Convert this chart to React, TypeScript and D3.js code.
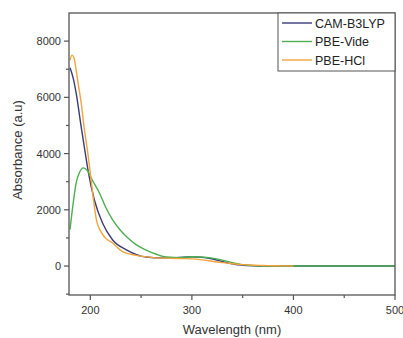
import React from "react";
import * as d3 from "d3";

const seriesNames = ["CAM-B3LYP", "PBE-Vide", "PBE-HCl"];
const seriesColors = ["#3b3b7c", "#4caf50", "#f2a43a"];

const camX = [180, 183, 186, 191, 195.6, 198, 204, 212, 222, 236, 255, 270, 285, 300, 310, 318, 326, 334, 342, 350, 360, 375, 400, 450, 500];
const camY = [7050, 6700, 6160, 4950, 3880, 3350, 2350, 1530, 925, 570, 320, 290, 300, 330, 310, 270, 200, 120, 60, 30, 10, 0, 0, 0, 0];

const videX = [180, 183, 186, 189, 193, 197, 202, 209, 215, 222, 229, 236, 245, 255, 265, 275, 290, 300, 310, 320, 330, 340, 350, 360, 380, 400, 450, 500];
const videY = [1300, 2200, 2950, 3300, 3490, 3400, 3050, 2600, 2100, 1640, 1300, 1030, 760, 570, 420, 320, 300, 330, 320, 280, 210, 120, 50, 20, 0, 0, 0, 0];

const hclX = [180, 182, 184, 186, 188, 191, 194, 197.5, 200, 203, 206, 210, 214, 222, 232, 245, 260, 275, 290, 300, 310, 320, 330, 340, 350, 360, 370, 380, 390, 400];
const hclY = [7330, 7500, 7400, 6980, 6500, 5800, 4900, 4020, 3300, 2400, 1640, 1250, 1030, 820, 500, 380, 310, 280, 265, 255, 220, 170, 120, 80, 50, 30, 20, 10, 5, 0];

const xTicks = [200, 300, 400, 500];
const xMinor = [250, 350, 450];
const yTicks = [0, 2000, 4000, 6000, 8000];
const yMinor = [-1000, 1000, 3000, 5000, 7000];

const W = 403, H = 338;
const L = 69, R = 395, T = 13, B = 295;

export default function App() {
  const x = d3.scaleLinear().domain([179, 500]).range([L, R]);
  const y = d3.scaleLinear().domain([-1030, 9000]).range([B, T]);
  const line = d3
    .line<[number, number]>()
    .x((d) => x(d[0]))
    .y((d) => y(d[1]))
    .curve(d3.curveMonotoneX);
  const data: [number, number][][] = [
    camX.map((v, i) => [v, camY[i]]),
    videX.map((v, i) => [v, videY[i]]),
    hclX.map((v, i) => [v, hclY[i]]),
  ];
  const axisColor = "#555";
  const font = "'Liberation Sans', Arial, sans-serif";
  return (
    <svg width={W} height={H} style={{ position: "absolute", left: 0, top: 0, background: "#fff" }} fontFamily={font}>
      <defs>
        <clipPath id="plot">
          <rect x={L} y={T} width={R - L} height={B - T} />
        </clipPath>
      </defs>
      <g clipPath="url(#plot)">
        {data.map((d, i) => (
          <path key={i} d={line(d) || ""} fill="none" stroke={seriesColors[i]} strokeWidth={1.4} />
        ))}
      </g>
      <rect x={L} y={T} width={R - L} height={B - T} fill="none" stroke={axisColor} strokeWidth={1.3} />
      {xTicks.map((t) => (
        <g key={"x" + t}>
          <line x1={x(t)} x2={x(t)} y1={B} y2={B + 5} stroke={axisColor} strokeWidth={1.2} />
          <text x={x(t)} y={B + 19} textAnchor="middle" fontSize={11} fill="#333">{t}</text>
        </g>
      ))}
      {xMinor.map((t) => (
        <line key={"xm" + t} x1={x(t)} x2={x(t)} y1={B} y2={B + 3} stroke={axisColor} strokeWidth={1.2} />
      ))}
      {yTicks.map((t) => (
        <g key={"y" + t}>
          <line x1={L - 5} x2={L} y1={y(t)} y2={y(t)} stroke={axisColor} strokeWidth={1.2} />
          <text x={L - 8} y={y(t) + 4} textAnchor="end" fontSize={11} fill="#333">{t}</text>
        </g>
      ))}
      {yMinor.map((t) => (
        <line key={"ym" + t} x1={L - 3} x2={L} y1={y(t)} y2={y(t)} stroke={axisColor} strokeWidth={1.2} />
      ))}
      <text x={(L + R) / 2} y={334} textAnchor="middle" fontSize={13} fill="#333">Wavelength (nm)</text>
      <text transform={`translate(22,${(T + B) / 2 - 4}) rotate(-90)`} textAnchor="middle" fontSize={13} fill="#333">Absorbance (a.u)</text>
      <rect x={278} y={T} width={R - 278} height={58} fill="#fff" stroke={axisColor} strokeWidth={1} />
      {seriesNames.map((n, i) => (
        <g key={n}>
          <line x1={282} x2={312} y1={23 + i * 18.5} y2={23 + i * 18.5} stroke={seriesColors[i]} strokeWidth={1.4} />
          <text x={315} y={23 + i * 18.5 + 4.5} fontSize={12.5} fill="#222">{n}</text>
        </g>
      ))}
    </svg>
  );
}
